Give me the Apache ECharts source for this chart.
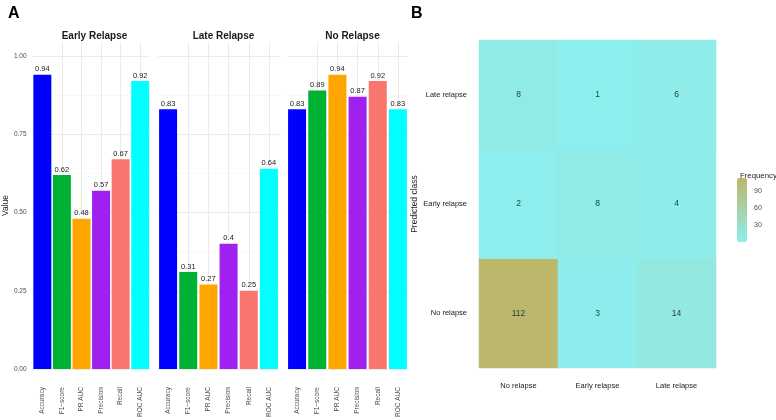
<!DOCTYPE html>
<html><head><meta charset="utf-8">
<script src="https://cdn.jsdelivr.net/npm/echarts@6/dist/echarts.min.js"></script>
<style>html,body{margin:0;padding:0;background:#fff}#c{width:776px;height:420px}</style>
</head><body><div id="c"></div>
<script>
// ---- data ----
const metrics = ['Accuracy','F1\u2212score','PR AUC','Precision','Recall','ROC AUC'];
const facets = ['Early Relapse','Late Relapse','No Relapse'];
const earlyRelapse = [0.94,0.62,0.48,0.57,0.67,0.92];
const lateRelapse  = [0.83,0.31,0.27,0.40,0.25,0.64];
const noRelapse    = [0.83,0.89,0.94,0.87,0.92,0.83];
const valueTicks = [0,0.25,0.5,0.75,1.0];
const actualClasses = ['No relapse','Early relapse','Late relapse'];
const predictedClasses = ['No relapse','Early relapse','Late relapse']; // bottom -> top
const confNoRelapse    = [112,3,14];   // predicted No relapse, by actual class
const confEarlyRelapse = [2,8,4];
const confLateRelapse  = [8,1,6];
const legendTicks = [30,60,90];

// ---- styles ----
const metricColors = ['#0000FF','#00B233','#FFA500','#A020F0','#F8766D','#00FFFF'];
const facetValues = [earlyRelapse, lateRelapse, noRelapse];
const gridLefts = [29,158,287];
const fontFam = 'Liberation Sans, Arial, sans-serif';
const halfBands = [];
metrics.forEach(m => { halfBands.push(m + ' a'); halfBands.push(m + ' b'); });

const grids = [], xAxes = [], yAxes = [], series = [], titles = [];
titles.push({text:'A', left:3, top:1, textStyle:{fontSize:16, fontWeight:'bold', color:'#000', fontFamily:fontFam}});
titles.push({text:'B', left:406, top:1, textStyle:{fontSize:16, fontWeight:'bold', color:'#000', fontFamily:fontFam}});

facetValues.forEach((vals, i) => {
  grids.push({left:gridLefts[i], top:42, width:121, height:328});
  titles.push({text:facets[i], left:gridLefts[i]+60.5, top:26, textAlign:'center',
    textStyle:{fontSize:10, fontWeight:'bold', color:'#1a1a1a', fontFamily:fontFam}});
  xAxes.push({type:'category', gridIndex:i, data:metrics,
    axisLine:{show:false}, axisTick:{show:false}, splitLine:{show:false},
    axisLabel:{rotate:90, fontSize:6.5, color:'#4d4d4d', margin:18, fontFamily:fontFam, interval:0}});
  yAxes.push({type:'value', gridIndex:i, min:0, max:1.045, interval:0.25,
    name: i===0 ? 'Value' : '', nameLocation:'middle', nameGap:19,
    nameTextStyle:{fontSize:8.5, color:'#1a1a1a', fontFamily:fontFam},
    axisLine:{show:false}, axisTick:{show:false},
    axisLabel:{show:i===0, fontSize:6.5, color:'#4d4d4d', margin:6, fontFamily:fontFam,
      formatter:v => valueTicks.some(t => Math.abs(t-v)<1e-9) ? v.toFixed(2) : ''},
    splitLine:{show:true, showMaxLine:false, lineStyle:{color:'#EBEBEB', width:1}},
    minorTick:{show:false, splitNumber:2},
    minorSplitLine:{show:true, lineStyle:{color:'#F4F4F4', width:0.6}}});
  series.push({type:'bar', xAxisIndex:i, yAxisIndex:i, z:3, barWidth:18,
    data: vals.map((v,k) => ({value:v, itemStyle:{color:metricColors[k]}})),
    label:{show:true, position:'top', distance:1.5, fontSize:7.5, color:'#1a1a1a', fontFamily:fontFam,
      formatter:p => String(p.value)}});
});
// helper axes (half-band) for vertical grid lines at category centres
facetValues.forEach((vals, i) => {
  xAxes.push({type:'category', gridIndex:i, data:halfBands, position:'bottom',
    axisLine:{show:false}, axisTick:{show:false}, axisLabel:{show:false},
    splitLine:{show:true, showMinLine:false, showMaxLine:false,
      interval:(idx) => idx % 2 === 1 && idx < halfBands.length, lineStyle:{color:'#EBEBEB', width:1}}});
});

// heatmap
grids.push({left:479, top:40, width:237, height:328});
xAxes.push({type:'category', gridIndex:3, data:actualClasses,
  axisLine:{show:false}, axisTick:{show:false}, splitLine:{show:false},
  axisLabel:{fontSize:7.5, color:'#1a1a1a', margin:14, fontFamily:fontFam}});
yAxes.push({type:'category', gridIndex:3, data:predictedClasses,
  name:'Predicted class', nameLocation:'middle', nameGap:58,
  nameTextStyle:{fontSize:8.5, color:'#1a1a1a', fontFamily:fontFam},
  axisLine:{show:false}, axisTick:{show:false}, splitLine:{show:false},
  axisLabel:{fontSize:7.5, color:'#1a1a1a', margin:12, fontFamily:fontFam}});
const confRows = [confNoRelapse, confEarlyRelapse, confLateRelapse];
const heatData = [];
confRows.forEach((row, yi) => row.forEach((v, xi) => heatData.push([xi, yi, v])));
const heatXAxisIndex = xAxes.length - 1;
series.push({type:'heatmap', xAxisIndex:heatXAxisIndex, yAxisIndex:3, data:heatData,
  label:{show:true, fontSize:8.5, color:'#1f3b3b', fontFamily:fontFam}});

// legend axis
grids.push({left:737, top:178, width:10, height:64});
xAxes.push({type:'category', gridIndex:4, data:[''], show:false});
yAxes.push({type:'value', gridIndex:4, min:1, max:112, position:'right',
  axisLine:{show:false}, axisTick:{show:false}, splitLine:{show:false},
  axisLabel:{customValues:legendTicks, fontSize:7, color:'#4d4d4d', margin:7, fontFamily:fontFam}});
titles.push({text:'Frequency', left:735, top:167, textStyle:{fontSize:7.8, fontWeight:'normal', color:'#1a1a1a', fontFamily:fontFam}});

const chart = echarts.init(document.getElementById('c'), null, {renderer:'canvas'});
chart.setOption({
  animation:false,
  backgroundColor:'#fff',
  title:titles,
  grid:grids, xAxis:xAxes, yAxis:yAxes, series:series,
  visualMap:{type:'continuous', seriesIndex:3, min:1, max:112, calculable:false, show:true,
    left:737, top:178, itemWidth:10, itemHeight:64, padding:0, text:null, showLabel:false,
    inRange:{color:['#8DEEEE','#BDB76B']}}
});
</script></body></html>
